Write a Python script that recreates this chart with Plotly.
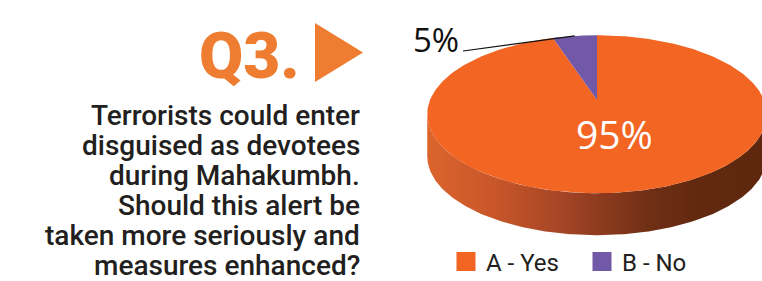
import numpy as np
import plotly.graph_objects as go

# ---------------- data ----------------
categories = ["A - Yes", "B - No"]
values = [95, 5]
value_labels = ["95%", "5%"]
slice_colors = ["#F26522", "#7159A7"]

q_label = "Q3."
question_lines = [
    "Terrorists could enter",
    "disguised as devotees",
    "during Mahakumbh.",
    "Should this alert be",
    "taken more seriously and",
    "measures enhanced?",
]

# ---------------- geometry of the tilted pie (pixel space) ----------------
CX, CY = 597, 100      # apex of the pie on screen
SX, SY = 167, 76.4     # horizontal / vertical radii
K = 0.18               # perspective factor
DEPTH = 42             # thickness of the pie


def proj(theta_deg, r=1.0):
    t = np.radians(theta_deg)
    X = r * np.sin(t)
    Z = r * np.cos(t)
    w = 1 + K * Z
    return CX + SX * X / w, CY - SY * Z / w


theta_r = np.degrees(np.arccos(-K))
theta_l = 360 - theta_r

total = float(sum(values))
bounds = np.concatenate([[0], np.cumsum(values) / total * 360])

fig = go.Figure()

side_scale = [[0, "#DC652D"], [0.2, "#C85629"], [0.4, "#A44526"],
              [0.52, "#8B3A1E"], [0.66, "#6E2F15"], [0.8, "#62290F"],
              [1, "#5E280E"]]

# sides (front part only)
for i in range(len(values)):
    lo = max(bounds[i], theta_r)
    hi = min(bounds[i + 1], theta_l)
    if lo >= hi:
        continue
    th = np.linspace(lo, hi, 200)
    xt, yt = proj(th)
    xs = np.concatenate([xt, xt[::-1]])
    ys = np.concatenate([yt, yt[::-1] + DEPTH])
    fig.add_trace(go.Scatter(
        x=xs, y=ys, mode="lines", line=dict(width=0), fill="toself",
        fillcolor=slice_colors[i],
        fillgradient=dict(type="horizontal", colorscale=side_scale,
                          start=CX - SX * 1.02, stop=CX + SX * 1.02),
        hoverinfo="skip", showlegend=False))

# top faces
for i in range(len(values)):
    th = np.linspace(bounds[i], bounds[i + 1], 300)
    xt, yt = proj(th)
    xs = np.concatenate([[CX], xt, [CX]])
    ys = np.concatenate([[CY], yt, [CY]])
    fig.add_trace(go.Scatter(
        x=xs, y=ys, mode="lines", line=dict(width=0), fill="toself",
        fillcolor=slice_colors[i], hoverinfo="skip", showlegend=False))

# legend entries
for name, col in zip(categories, slice_colors):
    fig.add_trace(go.Scatter(
        x=[None], y=[None], mode="markers", name=name,
        marker=dict(symbol="square", size=16, color=col,
                    line=dict(color=col, width=3))))

annotations = []
# big 95% label
annotations.append(dict(x=614, y=133, text=value_labels[0], showarrow=False,
                        xanchor="center", yanchor="middle",
                        font=dict(family="Open Sans", size=39, color="white")))
# 5% label
annotations.append(dict(x=436, y=39, text=value_labels[1], showarrow=False,
                        xanchor="center", yanchor="middle",
                        font=dict(family="Open Sans", size=33, color="#111111")))
# Q3.
annotations.append(dict(x=302, y=56, text=q_label, showarrow=False,
                        xanchor="right", yanchor="middle",
                        font=dict(family="Roboto", size=64, weight=900,
                                  color="#EE7D31")))
# question lines
for i, line in enumerate(question_lines):
    annotations.append(dict(x=362, y=115 + 30 * i, text=line, showarrow=False,
                            xanchor="right", yanchor="middle",
                            font=dict(family="Roboto", size=28, weight=500,
                                      color="#231F20")))

mid_no = (bounds[1] + bounds[2]) / 2
lx, ly = proj(mid_no)
shapes = [
    dict(type="path", path="M315,23 L363,52.5 L315,82 Z", fillcolor="#EE7D31",
         line=dict(width=0), xref="x", yref="y"),
    dict(type="line", x0=463, y0=51, x1=float(lx), y1=float(ly),
         line=dict(color="#111111", width=1.2), xref="x", yref="y"),
]

fig.update_layout(
    width=762, height=281,
    margin=dict(l=0, r=0, t=0, b=0, pad=0, autoexpand=False),
    paper_bgcolor="white", plot_bgcolor="white",
    xaxis=dict(range=[0, 762], visible=False, fixedrange=True),
    yaxis=dict(range=[281, 0], visible=False, fixedrange=True),
    showlegend=True,
    legend=dict(orientation="h", x=446 / 762, xanchor="left",
                y=1 - 262 / 281, yanchor="middle",
                font=dict(family="Roboto", size=24, color="#231F20"),
                entrywidth=91, entrywidthmode="pixels",
                bgcolor="rgba(0,0,0,0)", borderwidth=0),
    annotations=annotations,
    shapes=shapes,
)

fig.write_html(
    "out.html",
    config={"displayModeBar": False},
    post_script="document.body.style.margin='0';document.body.style.overflow='hidden';",
)
